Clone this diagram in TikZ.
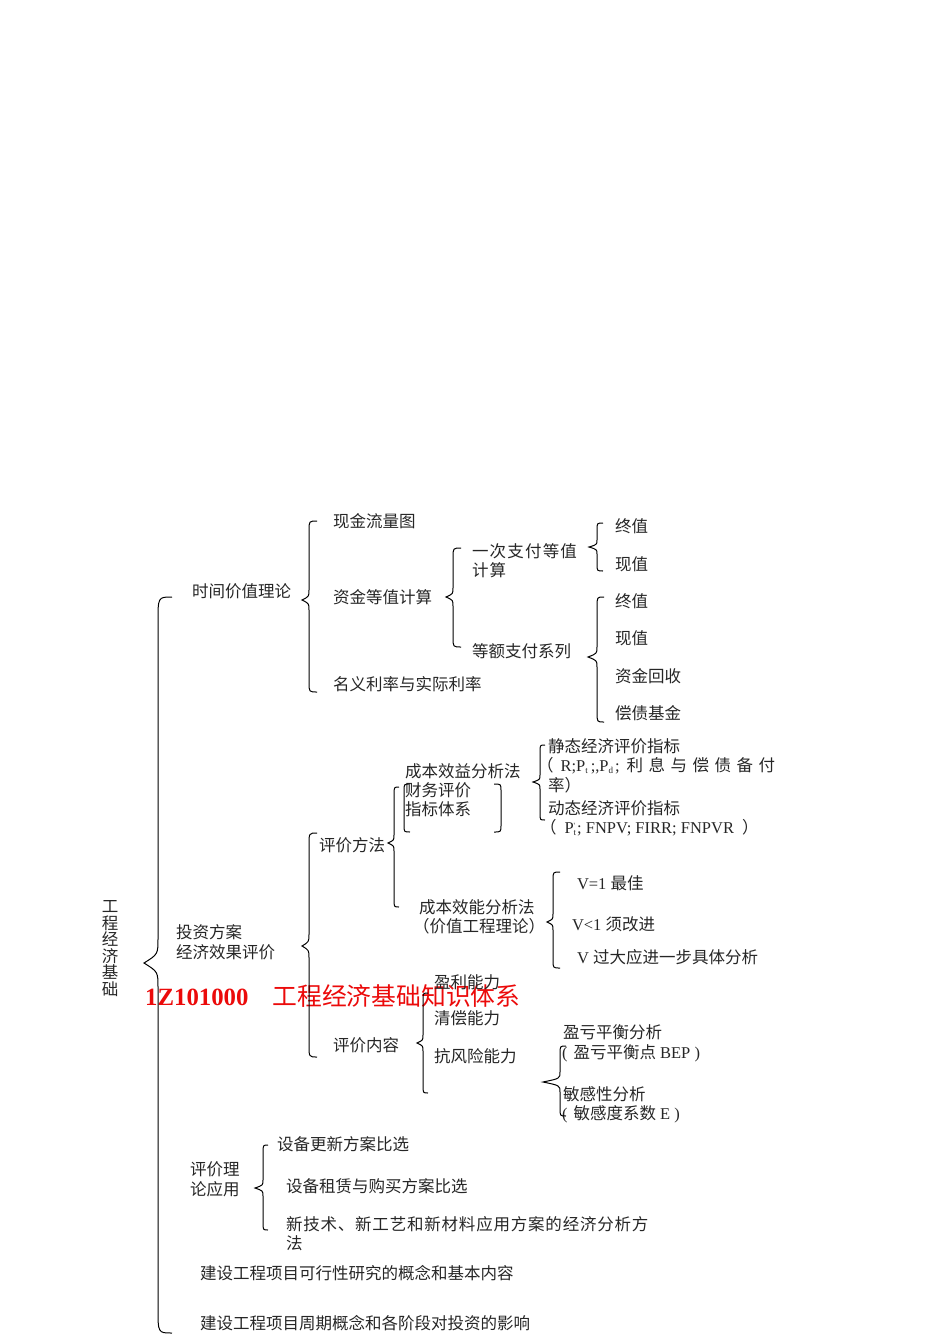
\documentclass[tikz,border=0pt]{standalone}
\usepackage{fontspec}
\setmainfont{Noto Sans CJK SC}
\newfontfamily\lat{Liberation Serif}
\definecolor{titlered}{RGB}{235,10,10}
\newcommand\sbs[1]{\raisebox{-2.5pt}{\fontsize{9}{9}\selectfont #1}}
% xend, xline, xtip, ytop, ytip, ybot, r(end), r(tip)
\newcommand\brc[8]{%
  \draw[bracestyle] (#1,#4) .. controls (#2,#4) .. (#2,{#4+#7}) -- (#2,{#5-#8})
    .. controls (#2,{#5-0.35*#8}) .. (#3,#5)
    .. controls (#2,{#5+0.35*#8}) .. (#2,{#5+#8}) -- (#2,{#6-#7})
    .. controls (#2,#6) .. (#1,#6);}
\tikzset{
  txt/.style={anchor=base west, inner sep=0pt, outer sep=0pt, text=black!85,
    font=\fontsize{16.5}{19}\selectfont},
  bracestyle/.style={draw=black, line width=1pt}
}
\begin{document}
\begin{tikzpicture}[x=1pt,y=-1pt]
\useasboundingbox (0,0) rectangle (950,1344);

% red title (drawn first)
\node[anchor=base west, inner sep=0pt, text=titlered] (title) at (145,1005)
  {\fontsize{24.8}{28}\selectfont{\lat\bfseries 1Z101000}\hspace{24pt}工程经济基础知识体系};

% root vertical label
\node[inner sep=0pt, text=black!85, align=center, font=\fontsize{16.5}{16.6}\selectfont] (root) at (110,948.5)
  {工\\程\\经\\济\\基\\础};

% level 1
\node[txt] (sjjz) at (192,597) {时间价值理论};
\node[txt] (tzfa1) at (176,938) {投资方案};
\node[txt] (tzfa2) at (176,958) {经济效果评价};
\node[txt] (pjll1) at (190,1175) {评价理};
\node[txt] (pjll2) at (190,1195) {论应用};
\node[txt] (kxx) at (200,1279) {建设工程项目可行性研究的概念和基本内容};
\node[txt] (zq) at (200,1329) {建设工程项目周期概念和各阶段对投资的影响};

% time value
\node[txt] (xjll) at (333,527) {现金流量图};
\node[txt] (zjdz) at (333,603) {资金等值计算};
\node[txt] (mylv) at (333,690) {名义利率与实际利率};
\node[txt] (ycz1) at (472,557) {一\hspace{1.2pt}次\hspace{1.2pt}支\hspace{1.2pt}付\hspace{1.2pt}等\hspace{1.2pt}值};
\node[txt] (ycz2) at (472,576) {计\hspace{1.2pt}算};
\node[txt] (dezf) at (472,657) {等额支付系列};
\node[txt] (zz1) at (615,532) {终值};
\node[txt] (xz1) at (615,570) {现值};
\node[txt] (zz2) at (615,607) {终值};
\node[txt] (xz2) at (615,644) {现值};
\node[txt] (zjhs) at (615,682) {资金回收};
\node[txt] (zcjj) at (615,719) {偿债基金};

% evaluation methods
\node[txt] (pjff) at (319,851) {评价方法};
\node[txt] (cbxy) at (405,777) {成本效益分析法};
\node[txt] (cwpj1) at (405,796) {财务评价};
\node[txt] (cwpj2) at (405,815) {指标体系};
\node[txt] (jt1) at (548,752) {静态经济评价指标};
\node[txt] (jt2) at (537,771) {（\hspace{7pt}{\lat R;P\sbs{t}\hspace{3pt};,P\sbs{d}\hspace{2pt};}\hspace{7pt}利\hspace{5.5pt}息\hspace{5.5pt}与\hspace{5.5pt}偿\hspace{5.5pt}债\hspace{5.5pt}备\hspace{5.5pt}付};
\node[txt] (jt3) at (548,791) {率）};
\node[txt] (dt2) at (540,833) {（\hspace{8pt}{\lat P\rlap{\sbs{t}}\raisebox{5pt}{\fontsize{8}{8}\selectfont '}\hspace{2pt}; FNPV; FIRR; FNPVR\hspace{8pt}}）};
\node[txt] (dt1) at (548,814) {动态经济评价指标};
\node[txt] (cbxn1) at (419,913) {成本效能分析法};
\node[txt] (cbxn2) at (413,932) {（价值工程理论）};
\node[txt] (v1) at (577,889) {{\lat V=1 }最佳};
\node[txt] (v2) at (572,930) {{\lat V<1 }须改进};
\node[txt] (v3) at (577,963) {{\lat V }过大应进一步具体分析};

% evaluation content
\node[txt] (pjnr) at (333,1051) {评价内容};
\node[txt] (ylnl) at (434,988) {盈利能力};
\node[txt] (qcnl) at (434,1024) {清偿能力};
\node[txt] (kfx) at (434,1062) {抗风险能力};
\node[txt] (ykph1) at (563,1038) {盈亏平衡分析};
\node[txt] (ykph2) at (562,1058) {{\lat (}\hspace{6pt}盈亏平衡点{\lat\ BEP\ )}};
\node[txt] (mgx1) at (563,1100) {敏感性分析};
\node[txt] (mgx2) at (562,1119) {{\lat (}\hspace{6pt}敏感度系数{\lat\ E\ )}};

% application
\node[txt] (sbgx) at (277,1150) {设备更新方案比选};
\node[txt] (sbzl) at (286,1192) {设备租赁与购买方案比选};
\node[txt] (xjs1) at (286,1230) {新\hspace{0.8pt}技\hspace{0.8pt}术\hspace{0.8pt}、\hspace{0.8pt}新\hspace{0.8pt}工\hspace{0.8pt}艺\hspace{0.8pt}和\hspace{0.8pt}新\hspace{0.8pt}材\hspace{0.8pt}料\hspace{0.8pt}应\hspace{0.8pt}用\hspace{0.8pt}方\hspace{0.8pt}案\hspace{0.8pt}的\hspace{0.8pt}经\hspace{0.8pt}济\hspace{0.8pt}分\hspace{0.8pt}析\hspace{0.8pt}方};
\node[txt] (xjs2) at (286,1249) {法};

% braces
\brc{172}{158}{144}{597}{963}{1333}{25}{25}
\brc{317}{309}{302}{521}{600}{692}{10}{10}
\brc{461}{453}{446}{548}{597}{647}{10}{9}
\brc{603}{597}{589}{523}{547}{571}{7}{7}
\brc{604}{597}{588}{597}{657}{722}{10}{10}
\brc{317}{309}{302}{833}{946}{1057}{12}{12}
\brc{399}{394}{388}{787}{843}{907}{8}{8}
\brc{545}{540}{533}{745}{782}{820}{7}{7}
\brc{560}{553}{547}{872}{922}{968}{8}{8}
\brc{428}{423}{417}{993}{1043}{1093}{8}{8}
\brc{566}{560}{543}{1046}{1082}{1116}{8}{10}
\brc{268}{263}{255}{1145}{1188}{1230}{8}{8}

% parentheses around 财务评价指标体系
\draw[bracestyle] (410,784) .. controls (404,784) .. (404,791) -- (404,825) .. controls (404,832) .. (410,832);
\draw[bracestyle] (494,784) .. controls (501,784) .. (501,791) -- (501,825) .. controls (501,832) .. (494,832);
\end{tikzpicture}
\end{document}
